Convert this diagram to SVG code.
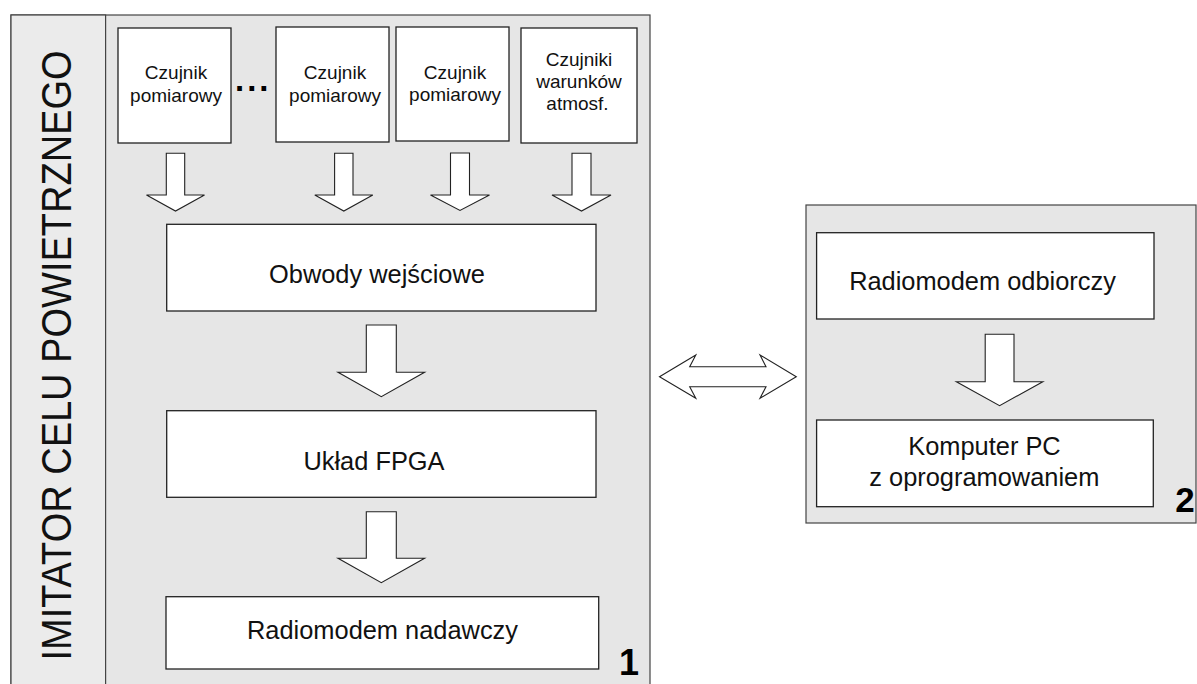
<svg xmlns="http://www.w3.org/2000/svg" width="1197" height="684" viewBox="0 0 1197 684">
  <style>
    .panel { fill: #e6e6e6; stroke: #444; stroke-width: 1.2; }
    .strip { fill: #ebebeb; stroke: #444; stroke-width: 1.2; }
    .box { fill: #ffffff; stroke: #222; stroke-width: 1.3; }
    .arrow { fill: #ffffff; stroke: #222; stroke-width: 1.1; stroke-linejoin: miter; }
    .small { font-family: "Liberation Sans", Arial, sans-serif; font-size: 19px; fill: #111; text-anchor: middle; }
    .label { font-family: "Liberation Sans", Arial, sans-serif; font-size: 25.4px; fill: #111; text-anchor: middle; }
    .num { font-family: "Liberation Sans", Arial, sans-serif; font-size: 36px; font-weight: bold; fill: #000; text-anchor: middle; }
    .title { font-family: "Liberation Sans", Arial, sans-serif; font-size: 42px; fill: #111; text-anchor: middle; }
  </style>
  <rect width="1197" height="684" fill="#ffffff"/>

  <!-- Panel 1: air target simulator -->
  <g id="panel-1">
    <rect class="panel" x="11" y="15" width="639" height="680"/>
    <rect class="strip" x="11" y="15" width="94.6" height="680"/>
    <text class="title" transform="translate(70.7,355.5) rotate(-90) scale(0.905,1)">IMITATOR CELU POWIETRZNEGO</text>
    <text class="num" x="629" y="675">1</text>
  </g>

  <!-- Panel 2: ground station -->
  <g id="panel-2">
    <rect class="panel" x="806" y="205" width="390" height="318"/>
    <text class="num" x="1185" y="511.7" style="font-size:35px">2</text>
  </g>

  <g id="sensor-1">
    <rect class="box" x="118" y="28" width="113" height="115"/>
    <text class="small" x="176" y="79.3">Czujnik</text>
    <text class="small" x="176" y="101.5">pomiarowy</text>
  </g>
  <g id="ellipsis">
    <text x="235" y="90.7" style="font-family:'Liberation Sans',Arial,sans-serif;font-size:33px;font-weight:bold;letter-spacing:3px;fill:#000">...</text>
  </g>
  <g id="sensor-2">
    <rect class="box" x="276" y="27" width="113" height="115"/>
    <text class="small" x="335" y="79.3">Czujnik</text>
    <text class="small" x="335" y="101.5">pomiarowy</text>
  </g>
  <g id="sensor-3">
    <rect class="box" x="396" y="27" width="113" height="114"/>
    <text class="small" x="455" y="79.3">Czujnik</text>
    <text class="small" x="455" y="101">pomiarowy</text>
  </g>
  <g id="sensor-atm">
    <rect class="box" x="521" y="28" width="116" height="115"/>
    <text class="small" x="579" y="65.7">Czujniki</text>
    <text class="small" x="579" y="87.7">warunków</text>
    <text class="small" x="577.5" y="110">atmosf.</text>
  </g>

  <g id="input-circuits">
    <rect class="box" x="166.7" y="224.3" width="429.3" height="86.7"/>
    <text class="label" x="377" y="283">Obwody wejściowe</text>
  </g>
  <g id="fpga">
    <rect class="box" x="166.7" y="410.7" width="429.3" height="86.6"/>
    <text class="label" x="374" y="470">Układ FPGA</text>
  </g>
  <g id="tx-modem">
    <rect class="box" x="166" y="596.7" width="432.7" height="72.3"/>
    <text class="label" x="382.5" y="639.3">Radiomodem nadawczy</text>
  </g>

  <g id="rx-modem">
    <rect class="box" x="816.6" y="232.7" width="337.4" height="86.3"/>
    <text class="label" x="982.5" y="290">Radiomodem odbiorczy</text>
  </g>
  <g id="pc">
    <rect class="box" x="816.6" y="420" width="336.7" height="86.7"/>
    <text class="label" x="984.5" y="455">Komputer PC</text>
    <text class="label" x="984.3" y="486">z oprogramowaniem</text>
  </g>

  <!-- Block-arrow connectors -->
  <g id="connectors">
    <path class="arrow" d="M166.3,153.3 L184.7,153.3 L184.7,195 L204.5,195 L175.5,211 L146.5,195 L166.3,195 Z"/>
    <path class="arrow" d="M334.6,153.3 L353,153.3 L353,195 L372.8,195 L343.8,211 L314.8,195 L334.6,195 Z"/>
    <path class="arrow" d="M450.5,153 L469.5,153 L469.5,195 L489.5,195 L460,210.5 L430.5,195 L450.5,195 Z"/>
    <path class="arrow" d="M572,153.3 L591,153.3 L591,195 L611,195 L581.5,211 L552,195 L572,195 Z"/>

    <path class="arrow" d="M366.3,325 L396.3,325 L396.3,372.3 L424.6,372.3 L381.3,396.7 L338,372.3 L366.3,372.3 Z"/>
    <path class="arrow" d="M366.3,511.7 L396.3,511.7 L396.3,558.3 L424.6,558.3 L381.3,582.7 L338,558.3 L366.3,558.3 Z"/>

    <path class="arrow" d="M985.2,334.3 L1014,334.3 L1014,381.7 L1042.8,381.7 L999.6,405.7 L956.4,381.7 L985.2,381.7 Z"/>

    <path class="arrow" d="M659.5,376.7 L695.8,355 L689.7,366.7 L766,366.7 L760,355 L796.3,376.7 L760,398.3 L766,386.7 L689.7,386.7 L695.8,398.3 Z"/>
  </g>
</svg>
